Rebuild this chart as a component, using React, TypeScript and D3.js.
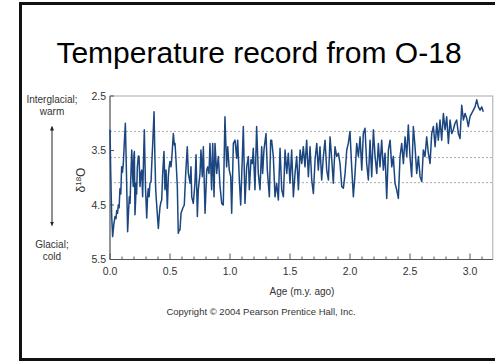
import * as d3 from 'd3';

// δ18O record: [age (m.y. ago), δ18O (‰)]
const record: [number, number][] = [
  [0.000, 3.12], [0.006, 3.9], [0.014, 4.7], [0.022, 5.08], [0.032, 4.85], [0.042, 4.71],
  [0.050, 4.75], [0.056, 4.6], [0.063, 4.65], [0.069, 4.5], [0.076, 4.55], [0.083, 4.2],
  [0.090, 4.3], [0.097, 3.8], [0.104, 3.9], [0.111, 3.74], [0.119, 3.37], [0.128, 3.0],
  [0.137, 3.9], [0.147, 4.99], [0.155, 4.6], [0.161, 4.35], [0.167, 4.47], [0.172, 4.1],
  [0.181, 3.49], [0.185, 3.7], [0.189, 4.0], [0.194, 4.16], [0.199, 3.6], [0.203, 3.52],
  [0.208, 4.68], [0.214, 4.4], [0.218, 4.1], [0.222, 4.3], [0.228, 3.8], [0.236, 3.6],
  [0.242, 3.61], [0.250, 4.16], [0.257, 3.92], [0.264, 3.86], [0.272, 4.35], [0.279, 3.7],
  [0.286, 3.12], [0.296, 4.2], [0.306, 4.74], [0.313, 4.35], [0.319, 4.2], [0.326, 4.35],
  [0.333, 4.1], [0.342, 4.07], [0.349, 3.7], [0.356, 3.37], [0.367, 2.79], [0.374, 3.6],
  [0.381, 4.22], [0.392, 4.6], [0.403, 4.93], [0.410, 4.7], [0.417, 4.53], [0.424, 4.45],
  [0.431, 4.41], [0.439, 3.92], [0.450, 3.52], [0.458, 4.22], [0.467, 3.86], [0.478, 4.56],
  [0.486, 3.98], [0.493, 3.8], [0.500, 3.7], [0.508, 3.8], [0.514, 3.67], [0.528, 3.19],
  [0.536, 3.4], [0.542, 3.37], [0.550, 3.67], [0.561, 4.16], [0.569, 5.02], [0.577, 4.96],
  [0.583, 4.96], [0.592, 4.65], [0.606, 4.56], [0.619, 4.5], [0.631, 3.92], [0.644, 3.43],
  [0.653, 3.92], [0.667, 4.1], [0.675, 3.8], [0.681, 4.35], [0.694, 4.47], [0.708, 4.1],
  [0.717, 3.58], [0.728, 4.71], [0.736, 4.22], [0.750, 3.92], [0.758, 3.49], [0.769, 3.98],
  [0.778, 3.43], [0.792, 4.65], [0.806, 3.86], [0.814, 3.8], [0.825, 3.92], [0.833, 3.37],
  [0.847, 4.22], [0.856, 3.37], [0.867, 4.35], [0.875, 3.37], [0.889, 3.92], [0.903, 3.61],
  [0.917, 4.16], [0.931, 4.47], [0.944, 4.5], [0.958, 2.88], [0.972, 3.8], [0.981, 3.43],
  [0.994, 3.86], [1.006, 3.98], [1.014, 4.65], [1.028, 3.37], [1.042, 3.31], [1.056, 3.64],
  [1.064, 3.31], [1.078, 4.04], [1.089, 4.5], [1.103, 3.61], [1.111, 3.06], [1.125, 4.47],
  [1.139, 3.8], [1.153, 3.61], [1.161, 4.22], [1.175, 3.67], [1.186, 3.74], [1.194, 3.46],
  [1.208, 4.22], [1.222, 3.06], [1.236, 3.92], [1.250, 4.22], [1.264, 3.43], [1.272, 3.92],
  [1.283, 3.49], [1.300, 3.19], [1.311, 3.86], [1.328, 4.35], [1.339, 3.31], [1.347, 3.31],
  [1.361, 3.61], [1.375, 4.35], [1.389, 4.1], [1.403, 4.41], [1.417, 3.46], [1.431, 4.22],
  [1.445, 4.35], [1.459, 3.49], [1.473, 3.92], [1.486, 3.55], [1.500, 4.10], [1.514, 3.49],
  [1.528, 4.35], [1.542, 3.92], [1.556, 3.61], [1.570, 4.22], [1.584, 3.49], [1.598, 3.74],
  [1.611, 3.43], [1.625, 3.80], [1.639, 3.31], [1.653, 3.98], [1.667, 3.43], [1.681, 4.04],
  [1.695, 4.29], [1.709, 3.67], [1.723, 3.37], [1.736, 3.86], [1.750, 3.43], [1.764, 4.04],
  [1.778, 3.61], [1.792, 3.31], [1.806, 3.86], [1.820, 4.04], [1.834, 3.25], [1.848, 3.67],
  [1.861, 4.10], [1.875, 3.43], [1.889, 3.61], [1.903, 3.55], [1.917, 3.74], [1.931, 4.16],
  [1.945, 4.19], [1.959, 3.92], [1.973, 3.49], [1.986, 3.37], [2.000, 3.15], [2.014, 3.80],
  [2.028, 4.35], [2.042, 3.92], [2.056, 3.37], [2.070, 3.61], [2.084, 3.25], [2.098, 3.86],
  [2.111, 3.19], [2.125, 3.09], [2.139, 3.74], [2.153, 4.04], [2.167, 3.31], [2.181, 3.98],
  [2.195, 3.12], [2.209, 3.61], [2.223, 3.92], [2.236, 3.37], [2.250, 3.80], [2.264, 3.31],
  [2.278, 3.86], [2.292, 3.55], [2.306, 4.38], [2.320, 3.49], [2.334, 3.31], [2.348, 3.80],
  [2.361, 3.61], [2.375, 4.10], [2.389, 4.22], [2.403, 4.38], [2.417, 3.61], [2.431, 3.37],
  [2.445, 3.74], [2.459, 3.25], [2.473, 3.61], [2.486, 3.03], [2.500, 3.61], [2.514, 3.98],
  [2.528, 3.06], [2.542, 3.43], [2.556, 3.92], [2.570, 3.61], [2.584, 3.98], [2.598, 4.07],
  [2.611, 3.49], [2.625, 3.61], [2.639, 3.25], [2.653, 3.55], [2.667, 3.74], [2.681, 3.19],
  [2.695, 3.06], [2.709, 3.43], [2.723, 3.00], [2.736, 3.31], [2.750, 2.94], [2.764, 3.31],
  [2.778, 2.82], [2.792, 3.12], [2.806, 2.88], [2.820, 3.37], [2.834, 2.94], [2.848, 3.19],
  [2.861, 3.12], [2.875, 3.00], [2.889, 2.94], [2.903, 3.19], [2.917, 3.28], [2.931, 2.67],
  [2.945, 2.94], [2.959, 2.82], [2.973, 2.91], [2.986, 3.06], [3.000, 2.88], [3.014, 2.82],
  [3.028, 2.76], [3.042, 2.70], [3.056, 2.57], [3.070, 2.70], [3.084, 2.76], [3.098, 2.70],
  [3.111, 2.79],
];

const xLabels = [0, 0.5, 1.0, 1.5, 2.0, 2.5, 3.0];
const xMinor = [0, 0.1, 0.2, 0.3, 0.4, 0.5, 0.6, 0.7, 0.8, 0.9, 1.0, 1.1, 1.2, 1.3, 1.4, 1.5,
  1.6, 1.7, 1.8, 1.9, 2.0, 2.1, 2.2, 2.3, 2.4, 2.5, 2.6, 2.7, 2.8, 2.9, 3.0, 3.1];
const yLabels = [2.5, 3.5, 4.5, 5.5];
const refLines = [3.15, 3.63, 4.09];

const FONT = "'Liberation Sans', Arial, sans-serif";

export default function App() {
  const width = 495;
  const height = 361;

  const x = d3.scaleLinear().domain([0, 3]).range([110, 470]);
  const y = d3.scaleLinear().domain([2.5, 5.5]).range([96, 259.5]);
  const xEnd = x(3.19);

  const line = d3.line<[number, number]>()
    .x((d) => x(d[0]))
    .y((d) => y(d[1]));

  const arrowX = 52;

  return (
    <svg width={width} height={height} style={{ position: 'absolute', left: 0, top: 0, background: '#fff' }}
      fontFamily={FONT}>
      <defs>
        <marker id="ah" viewBox="0 0 10 10" refX="5" refY="5" markerWidth="5" markerHeight="7" orient="auto-start-reverse">
          <path d="M0,1 L10,5 L0,9 z" fill="#222" />
        </marker>
      </defs>

      {/* slide frame: left, top, bottom */}
      <path d={`M${width},3.5 H20.5 V359.5 H${width}`} fill="none" stroke="#111" strokeWidth={3} />

      <text x={259} y={63} textAnchor="middle" fontSize={30} fill="#000">Temperature record from O-18</text>

      {/* reference lines */}
      {refLines.map((v) => (
        <line key={v} x1={x(0)} x2={xEnd} y1={y(v)} y2={y(v)} stroke="#aaa" strokeWidth={1} strokeDasharray="2,2" />
      ))}

      {/* plot frame */}
      <rect x={x(0)} y={y(2.5)} width={xEnd - x(0)} height={y(5.5) - y(2.5)} fill="none" stroke="#aaa" strokeWidth={1} />
      <line x1={x(0)} x2={x(0)} y1={y(2.5)} y2={y(5.5)} stroke="#555" />
      <line x1={x(0)} x2={xEnd} y1={y(5.5)} y2={y(5.5)} stroke="#555" />

      {/* x ticks */}
      {xMinor.map((v) => {
        const major = xLabels.some((m) => Math.abs(m - v) < 1e-6);
        return (
          <line key={v} x1={x(v)} x2={x(v)} y1={y(5.5)} y2={y(5.5) - (major ? 6 : 3)} stroke="#555" />
        );
      })}
      {xLabels.map((v) => (
        <text key={v} x={x(v)} y={275} textAnchor="middle" fontSize={10.5} fill="#333">{v.toFixed(1)}</text>
      ))}

      {/* y ticks */}
      {yLabels.map((v) => (
        <g key={v}>
          <line x1={x(0)} x2={x(0) + 4} y1={y(v)} y2={y(v)} stroke="#555" />
          <text x={106} y={y(v) + 3.5} textAnchor="end" fontSize={10.5} fill="#333">{v.toFixed(1)}</text>
        </g>
      ))}

      {/* data */}
      <path d={line(record) ?? ''} fill="none" stroke="#1b4680" strokeWidth={1.5} strokeLinejoin="round" />

      {/* axis titles */}
      <text x={302} y={295} textAnchor="middle" fontSize={10} fill="#333">Age (m.y. ago)</text>
      <text x={261} y={315} textAnchor="middle" fontSize={9.5} fill="#333">Copyright © 2004 Pearson Prentice Hall, Inc.</text>
      <text transform={`translate(85, 180) rotate(-90)`} textAnchor="middle" fontSize={12} fill="#333">
        δ<tspan fontSize={8} dy={-4}>18</tspan><tspan dy={4}>O</tspan>
      </text>

      {/* left annotation */}
      <text x={arrowX} y={103} textAnchor="middle" fontSize={10} fill="#333">Interglacial;</text>
      <text x={arrowX} y={115} textAnchor="middle" fontSize={10} fill="#333">warm</text>
      <line x1={arrowX} x2={arrowX} y1={128} y2={224} stroke="#222" strokeWidth={1}
        markerStart="url(#ah)" markerEnd="url(#ah)" />
      <text x={arrowX} y={248} textAnchor="middle" fontSize={10} fill="#333">Glacial;</text>
      <text x={arrowX} y={260} textAnchor="middle" fontSize={10} fill="#333">cold</text>
    </svg>
  );
}
